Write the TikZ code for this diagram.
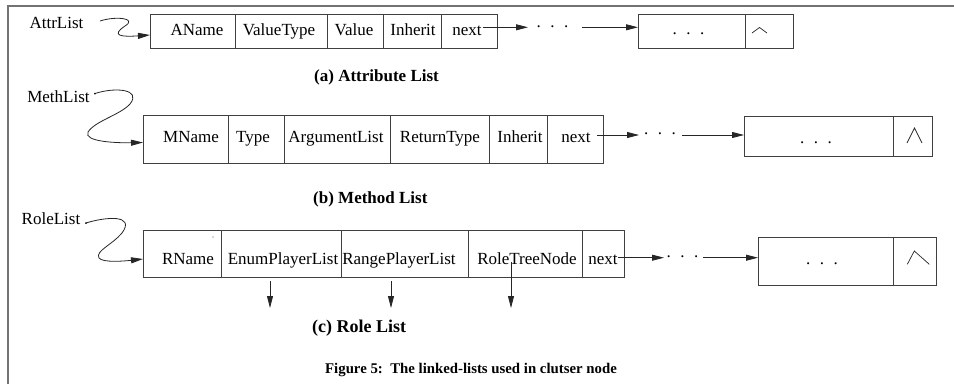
\documentclass[tikz,border=0pt]{standalone}
\usepackage{fontspec}
\setmainfont{Liberation Serif}
\usetikzlibrary{arrows.meta}
\newcommand\mkcell[5]{%
  \node[cellbox,minimum width={(#3-#2)*1pt},minimum height={(#5-#4)*1pt}] (#1) at ({(#2+#3)/2},{(#4+#5)/2}) {};}
\newcommand\threedots{.\hspace{9.5pt}.\hspace{9.5pt}.}
\begin{document}
\begin{tikzpicture}[x=1pt,y=-1pt,
  cellbox/.style={draw=black!75,line width=0.8pt,inner sep=0pt,outer sep=0pt},
  celltext/.style={anchor=base,font=\fontsize{17}{20}\selectfont,inner sep=0pt},
  ptr/.style={draw=black!85,line width=0.8pt,-{Triangle[length=12pt,width=6pt]}},
  wedge/.style={draw=black!85,line width=0.7pt},
  subcap/.style={anchor=base west,font=\fontsize{17}{20}\selectfont\bfseries,inner sep=0pt},
  figcap/.style={anchor=base west,font=\fontsize{14.8}{18}\selectfont\bfseries,inner sep=0pt},
  tailpt/.style={circle,fill=black,inner sep=0pt,minimum size=2pt}]
\useasboundingbox (0,0) rectangle (954,384);
% frame
\draw[black!55,line width=1.5pt] (954,6) -- (8,6) -- (8,384);

% ---------------- (a) Attribute list
\node[celltext] (lA) at (56.5,28) {AttrList};
\mkcell{aN}{150}{235}{14}{48}
\mkcell{aVT}{235}{327}{14}{48}
\mkcell{aV}{327}{383}{14}{48}
\mkcell{aI}{383}{441}{14}{48}
\mkcell{aX}{441}{497}{14}{48}
\node[celltext] (taN) at (197,35) {AName};
\node[celltext] (taVT) at (279,35) {ValueType};
\node[celltext] (taV) at (354,35) {Value};
\node[celltext] (taI) at (413,35) {Inherit};
\node[celltext] (taX) at (467,35) {next};
\mkcell{aE1}{638}{745}{14}{48}
\mkcell{aE2}{745}{793}{14}{48}
\node[celltext] (aEd) at (688.5,34) {\threedots};
\draw[wedge] (752,33) -- (759.5,27.5) -- (767,33);
\coordinate (as) at (483,27.3);
\coordinate (ad) at (528,27.3);
\coordinate (ad2) at (582,27.3);
\node[celltext] (aMd) at (552.5,27) {\threedots};
\draw[ptr] (as) -- (ad);
\draw[ptr] (ad2) -- (aE1.west |- ad2);
\coordinate (aCs) at (100,21);
\draw[ptr] (aCs) .. controls (115,16) and (138,18) .. (125,26)
  .. controls (110,36) and (122,37) .. (aN.west |- 0,35);
\node[subcap] (capA) at (314,81) {(a) Attribute List};

% ---------------- (b) Method list
\node[celltext] (lB) at (58.5,102) {MethList};
\mkcell{bN}{143}{228}{115}{163}
\mkcell{bT}{228}{284}{115}{163}
\mkcell{bA}{284}{390}{115}{163}
\mkcell{bR}{390}{489}{115}{163}
\mkcell{bI}{489}{547}{115}{163}
\mkcell{bX}{547}{603}{115}{163}
\node[celltext] (tbN) at (191,142) {MName};
\node[celltext] (tbT) at (253,142) {Type};
\node[celltext] (tbA) at (336,142) {ArgumentList};
\node[celltext] (tbR) at (440,142) {ReturnType};
\node[celltext] (tbI) at (520,142) {Inherit};
\node[celltext] (tbX) at (576,142) {next};
\mkcell{bE1}{744}{893}{116}{156}
\mkcell{bE2}{893}{932}{116}{156}
\node[celltext] (bEd) at (816,143) {\threedots};
\draw[wedge] (907,143) -- (914.5,128) -- (922,143);
\coordinate (bs) at (597,135);
\coordinate (bd) at (639,135);
\coordinate (bd2) at (682,135);
\node[celltext] (bMd) at (660,134.5) {\threedots};
\draw[ptr] (bs) -- (bd);
\draw[ptr] (bd2) -- (bE1.west |- bd2);
\node[tailpt] (bCs) at (95,93.5) {};
\draw[ptr] (bCs.center) .. controls (115,87) and (142,89) .. (130,104)
  .. controls (120,115) and (95,121) .. (88,132)
  .. controls (83,142) and (118,143) .. (bN.west |- 0,142.5);
\node[subcap] (capB) at (313,203) {(b) Method List};

% ---------------- (c) Role list
\node[celltext] (lC) at (51,224) {RoleList};
\mkcell{cN}{143}{221}{230}{277}
\mkcell{cEn}{221}{341}{230}{277}
\mkcell{cR}{341}{468}{230}{277}
\mkcell{cT}{468}{582}{230}{277}
\mkcell{cX}{582}{624}{230}{277}
\node[celltext] (tcN) at (188,264) {RName};
\node[celltext] (tcEn) at (283,264) {EnumPlayerList};
\node[celltext] (tcR) at (399,264) {RangePlayerList};
\node[celltext] (tcT) at (527,264) {RoleTreeNode};
\node[celltext] (tcX) at (603,264) {next};
\fill[black!70] (213,237) circle (0.6);
\mkcell{cE1}{758}{893}{237}{285}
\mkcell{cE2}{893}{936}{237}{285}
\node[celltext] (cEd) at (822,264.5) {\threedots};
\draw[wedge] (907.3,264.3) -- (914.3,251) -- (929.3,264.3);
\coordinate (cs) at (618,257.7);
\coordinate (cd) at (664,257.7);
\coordinate (cd2) at (703,257.7);
\node[celltext] (cMd) at (682.5,257.5) {\threedots};
\draw[ptr] (cs) -- (cd);
\draw[ptr] (cd2) -- (cE1.west |- cd2);
\node[tailpt] (cCs) at (86,223) {};
\draw[ptr] (cCs.center) .. controls (105,217) and (136,214) .. (122,233)
  .. controls (112,245) and (95,251) .. (99,258)
  .. controls (103,263) and (125,261) .. (cN.west |- 0,259);
\coordinate (d1s) at (270,281);
\coordinate (d1e) at (270,308);
\coordinate (d2s) at (391,281);
\coordinate (d2e) at (391,308);
\coordinate (d3s) at (511,262);
\coordinate (d3e) at (511,308);
\draw[ptr] (d1s) -- (d1e);
\draw[ptr] (d2s) -- (d2e);
\draw[ptr] (d3s) -- (d3e);
\node[subcap,font=\fontsize{18}{21}\selectfont\bfseries] (capC) at (312,332) {(c) Role List};

\node[figcap] (capF) at (325,373) {Figure 5:\ \ The linked-lists used in clutser node};
\end{tikzpicture}
\end{document}
